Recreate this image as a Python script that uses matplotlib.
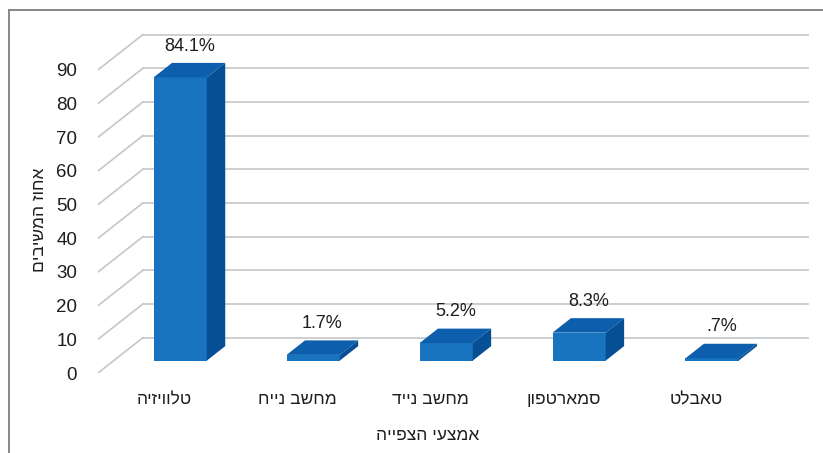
import matplotlib.pyplot as plt
from matplotlib.patches import Polygon
from matplotlib.lines import Line2D

# survey data: share of respondents per viewing device
devices = ['טלוויזיה', 'מחשב נייח', 'מחשב נייד', 'סמארטפון', 'טאבלט']
percent = [84.1, 1.7, 5.2, 8.3, 0.7]
value_labels = ['84.1%', '1.7%', '5.2%', '8.3%', '.7%']
y_ticks = [0, 10, 20, 30, 40, 50, 60, 70, 80, 90]

x_title = 'אמצעי הצפייה'
y_title = 'אחוז המשיבים'


def rtl(s):
    # matplotlib lays glyphs left to right, so flip hebrew strings
    return s[::-1]


plt.rcParams['font.family'] = ['Liberation Sans', 'DejaVu Sans']

front = '#1874BF'
top_c = '#0D5EAD'
side_c = '#064F94'
grid_c = '#C4C7CA'
txt = '#1E1E1E'

# fake 3d: full floor depth in data units, and where the bars sit in it
DX, DY = 0.338, 10.5
d0, d1 = 0.35, 0.76
w = 0.4

fig = plt.figure(figsize=(8.23, 4.53), dpi=100)
ax = fig.add_axes([98 / 823, 80 / 453, 718 / 823, 358 / 453])
ax.set_xlim(-0.5, 4.9)
ax.set_ylim(0, 106.3)
for s in ax.spines.values():
    s.set_visible(False)

# gridlines: diagonal on the floor edge, horizontal on the back wall
x_end = 4.838
for v in y_ticks:
    ax.plot([-0.5, -0.5 + DX], [v, v + DY], color=grid_c, lw=1.2, zorder=1)
    ax.plot([-0.5 + DX, x_end], [v + DY, v + DY], color=grid_c, lw=1.2, zorder=1)

xs = list(range(len(devices)))
ax.bar([x + d0 * DX for x in xs], percent, width=w, bottom=d0 * DY,
       color=front, zorder=3)

ox, oy = (d1 - d0) * DX, (d1 - d0) * DY
for x, v, lab in zip(xs, percent, value_labels):
    l = x - w / 2 + d0 * DX
    r = x + w / 2 + d0 * DX
    b = d0 * DY
    t = b + v
    ax.add_patch(Polygon([(l, t), (r, t), (r + ox, t + oy), (l + ox, t + oy)],
                         closed=True, color=top_c, lw=0, zorder=3))
    ax.add_patch(Polygon([(r, b), (r + ox, b + oy), (r + ox, t + oy), (r, t)],
                         closed=True, color=side_c, lw=0, zorder=3))
    ax.text(x + (d0 + d1) / 2 * DX, v + d1 * DY + 5.0, lab,
            ha='center', va='center', fontsize=13, color=txt)

ax.set_yticks(y_ticks)
ax.set_yticklabels([str(v) for v in y_ticks], fontsize=13.5, color=txt)
ax.set_xticks(xs)
ax.set_xticklabels([rtl(d) for d in devices], fontsize=12.5, color=txt)
ax.tick_params(axis='y', length=0, pad=15)
ax.tick_params(axis='x', length=0, pad=14)

fig.text(428 / 823, 1 - 435 / 453, rtl(x_title), ha='center', va='center',
         fontsize=12.5, color=txt)
fig.text(40 / 823, 1 - 220 / 453, rtl(y_title), ha='center', va='center',
         rotation=90, fontsize=12.5, color=txt)

# chart frame
fig.add_artist(Line2D([8.5 / 823, 8.5 / 823], [0, 1 - 9.5 / 453],
                      transform=fig.transFigure, color='#7F7F7F', lw=1.3))
fig.add_artist(Line2D([8.5 / 823, 1], [1 - 9.5 / 453, 1 - 9.5 / 453],
                      transform=fig.transFigure, color='#7F7F7F', lw=1.3))

fig.savefig('out.png', dpi=100)
